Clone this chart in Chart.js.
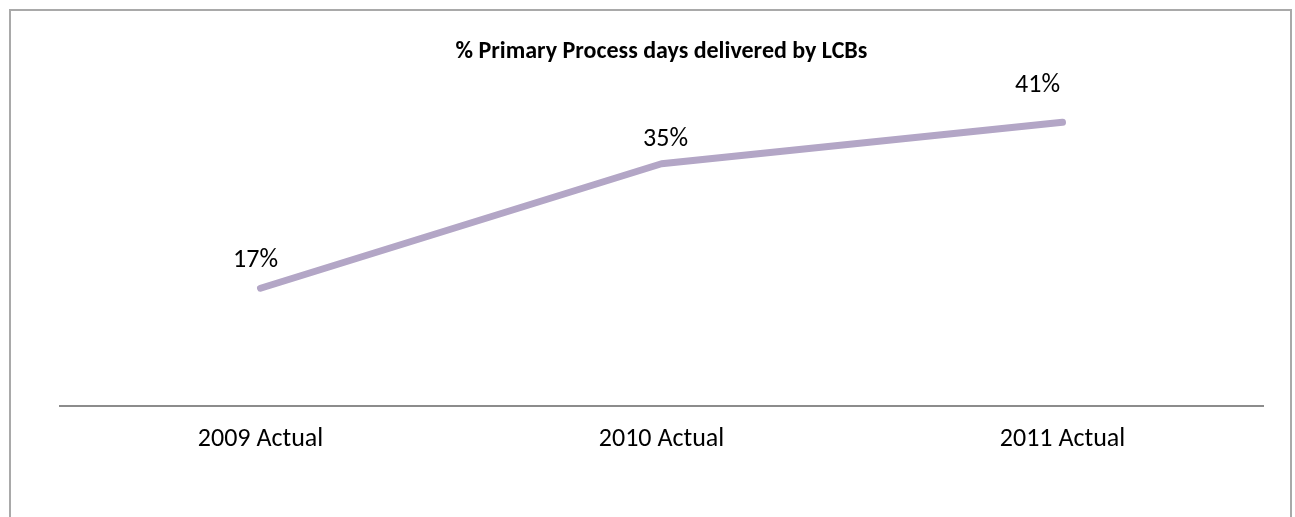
<!DOCTYPE html>
<html>
<head>
<meta charset="utf-8">
<script src="https://cdn.jsdelivr.net/npm/chart.js@4/dist/chart.umd.min.js"></script>
<style>
  html, body { margin: 0; padding: 0; background: #fff; }
  #wrap { position: relative; width: 1295px; height: 517px; overflow: hidden; }
  #frame { position: absolute; left: 9px; top: 9px; width: 1283px; height: 600px; border: 2px solid #a9a9a9; box-sizing: border-box; }
  canvas { position: absolute; left: 0; top: 0; }
</style>
</head>
<body>
<div id="wrap">
  <div id="frame"></div>
  <canvas id="c" width="1295" height="517"></canvas>
</div>
<script>
const categories = ["2009 Actual", "2010 Actual", "2011 Actual"];
const shareValues = [0.17, 0.35, 0.41];
const valueLabels = ["17%", "35%", "41%"];
const chartTitle = "% Primary Process days delivered by LCBs";

const FONT = "Carlito, Lato, 'Liberation Sans', sans-serif";

const labelPlugin = {
  id: 'pointLabels',
  afterDatasetsDraw(chart, args, opts) {
    const meta = chart.getDatasetMeta(0);
    const ctx = chart.ctx;
    ctx.save();
    ctx.font = opts.font;
    ctx.fillStyle = opts.color;
    ctx.textAlign = 'center';
    ctx.textBaseline = 'middle';
    meta.data.forEach((pt, i) => {
      const off = opts.offsets[i] || {x: 0, y: -28};
      ctx.fillText(valueLabels[i], pt.x + off.x, pt.y + off.y);
    });
    ctx.restore();
  }
};

new Chart(document.getElementById('c'), {
  type: 'line',
  data: {
    labels: categories,
    datasets: [{
      data: shareValues,
      borderColor: '#b3a6c6',
      borderWidth: 7,
      borderCapStyle: 'round',
      borderJoinStyle: 'round',
      pointRadius: 0,
      tension: 0,
      fill: false
    }]
  },
  options: {
    responsive: false,
    animation: false,
    layout: { padding: { left: 60, right: 32, top: 0, bottom: 44 } },
    plugins: {
      legend: { display: false },
      tooltip: { enabled: false },
      title: {
        display: true,
        text: chartTitle,
        color: '#000',
        font: { family: FONT, size: 24, weight: 'bold', lineHeight: 1 },
        padding: { top: 40, bottom: -4 }
      },
      pointLabels: {
        font: "26px " + FONT,
        color: '#000',
        offsets: [{x: -5, y: -28}, {x: 4, y: -24}, {x: -25, y: -37}]
      }
    },
    scales: {
      x: {
        offset: true,
        grid: { display: false, drawTicks: false },
        border: { display: true, color: '#8c8c8c', width: 2 },
        ticks: { color: '#000', font: { family: FONT, size: 26 }, padding: 18 }
      },
      y: {
        display: false,
        min: 0,
        max: 0.5
      }
    }
  },
  plugins: [labelPlugin]
});
</script>
</body>
</html>
